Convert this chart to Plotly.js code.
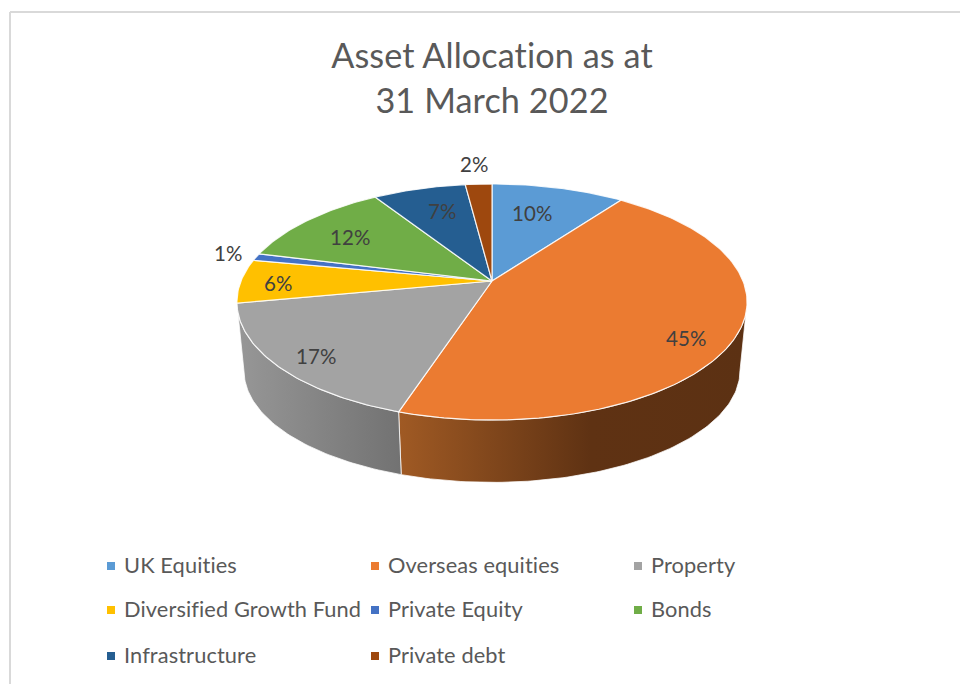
<!DOCTYPE html>
<html>
<head>
<meta charset="utf-8">
<script src="https://cdn.plot.ly/plotly-3.0.1.min.js"></script>
<style>html,body{margin:0;padding:0;background:#fff}#chart{width:960px;height:684px}svg text{letter-spacing:0.1px;font-variant-ligatures:none}</style>
</head>
<body>
<div id="chart"></div>
<script>
// Data
const categories = ["UK Equities","Overseas equities","Property","Diversified Growth Fund","Private Equity","Bonds","Infrastructure","Private debt"];
const shares = [10,45,17,6,1,12,7,2];
const colors = ["#5b9bd5","#eb7b31","#a3a3a3","#ffc000","#4472c4","#70ad47","#255e91","#9e480e"];
const chartTitle = "Asset Allocation as at<br>31 March 2022";

// Pie geometry: a circular disc seen in perspective, in pixel-scaled axes
const cx = 492, k = 0.178;
const topFace = {a: 251, b: 114.3, y0: 281};
const bottomFace = {a: 244, b: 108, y0: 351};
const project = (deg, f, r = 1) => {
  const t = deg * Math.PI / 180, X = r * Math.sin(t), Y = -r * Math.cos(t), d = 1 - k * Y;
  return [cx + X * f.a / d, f.y0 + Y * f.b / d];
};
const arc = (from, to, f) => {
  const pts = [], n = Math.max(2, Math.ceil(Math.abs(to - from)));
  for (let i = 0; i <= n; i++) pts.push(project(from + (to - from) * i / n, f));
  return pts;
};
const total = shares.reduce((s, v) => s + v, 0);
let acc = 0;
const slices = shares.map(v => { const s = {from: acc / total * 360, to: (acc + v) / total * 360}; acc += v; return s; });

// Side walls (only the part facing the viewer)
const visFrom = 90 + Math.asin(k) * 180 / Math.PI, visTo = 360 - visFrom;
const sideScales = {
  1: [[0,"#a05a24"],[0.55,"#5f3213"],[1,"#5c3113"]],
  2: [[0,"#979797"],[1,"#727272"]]
};
const traces = [];
slices.forEach((s, i) => {
  const from = Math.max(s.from, visFrom), to = Math.min(s.to, visTo);
  if (to <= from || !sideScales[i]) return;
  const pts = [...arc(from, to, topFace), ...arc(to, from, bottomFace)];
  pts.push(pts[0]);
  traces.push({
    type: "scatter", mode: "lines", x: pts.map(p => p[0]), y: pts.map(p => p[1]),
    fill: "toself", fillgradient: {type: "horizontal", colorscale: sideScales[i]},
    line: {color: "rgba(255,255,255,0.75)", width: 1}, hoverinfo: "skip", showlegend: false
  });
});
// Top faces
slices.forEach((s, i) => {
  const apex = project(0, topFace, 0);
  const pts = [apex, ...arc(s.from, s.to, topFace), apex];
  traces.push({
    type: "scatter", mode: "lines", name: categories[i], x: pts.map(p => p[0]), y: pts.map(p => p[1]),
    fill: "toself", fillcolor: colors[i], line: {color: "rgba(255,255,255,0.85)", width: 1.2},
    hoverinfo: "name", showlegend: false
  });
});

// Legend swatches and labels
const legendCols = [111, 375, 638], legendRows = [566, 610, 656];
const legendPos = categories.map((c, i) => [legendCols[i % 3], legendRows[Math.floor(i / 3)]]);
traces.push({
  type: "scatter", mode: "markers", x: legendPos.map(p => p[0]), y: legendPos.map(p => p[1]),
  marker: {symbol: "square", size: 8, color: colors}, hoverinfo: "skip", showlegend: false
});
const legendAnn = categories.map((c, i) => ({
  x: legendPos[i][0] + 11, y: legendPos[i][1] - 2, xref: "x", yref: "y", text: c, showarrow: false,
  xanchor: "left", yanchor: "middle", font: {family: "Lato", size: 21.8, color: "#595959"}
}));
// Data labels
const labelPos = [[532,213],[686,338],[316,356],[278,283],[228,253],[350,237],[442,211],[474,164]];
const labelAnn = shares.map((v, i) => ({
  x: labelPos[i][0], y: labelPos[i][1], xref: "x", yref: "y", text: v + "%", showarrow: false,
  xanchor: "center", yanchor: "middle", font: {family: "Lato", size: 20.5, color: "#404040"}
}));

const layout = {
  width: 960, height: 684, margin: {l: 0, r: 0, t: 0, b: 0},
  paper_bgcolor: "#fff", plot_bgcolor: "#fff", showlegend: false,
  title: {text: chartTitle, x: 492 / 960, xanchor: "center", y: 0.9, yanchor: "bottom",
          font: {family: "Lato", size: 34.2, color: "#595959"}},
  xaxis: {range: [0, 960], visible: false, fixedrange: true},
  yaxis: {range: [684, 0], visible: false, fixedrange: true},
  annotations: [...legendAnn, ...labelAnn],
  shapes: [
    {type: "line", xref: "x", yref: "y", x0: 10, x1: 10, y0: 12, y1: 684, line: {color: "#d9d9d9", width: 2}},
    {type: "line", xref: "x", yref: "y", x0: 10, x1: 960, y0: 12, y1: 12, line: {color: "#d9d9d9", width: 2}}
  ]
};
Plotly.newPlot("chart", traces, layout, {displayModeBar: false});
</script>
</body>
</html>
